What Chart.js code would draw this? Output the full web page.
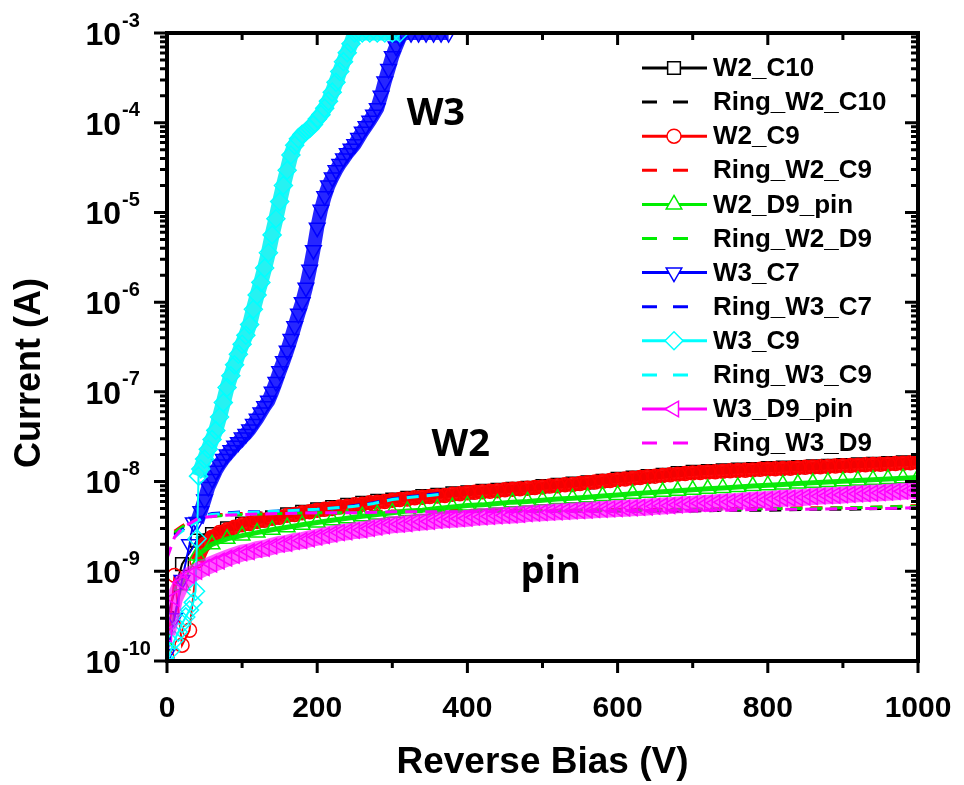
<!DOCTYPE html>
<html>
<head>
<meta charset="utf-8">
<title>Reverse bias I-V</title>
<script src="https://cdn.jsdelivr.net/npm/chart.js@4.4.0/dist/chart.umd.min.js"></script>
<style>
  html, body { margin: 0; padding: 0; background: #fff; }
  #wrap { width: 964px; height: 785px; }
</style>
</head>
<body>
<div id="wrap"><canvas id="ivChart" width="964" height="785"></canvas></div>
<script>
// bias points (V)
const vFine = [0, 10, 20, 30, 40, 50, 60, 70, 80, 90,
  100, 110, 120, 130, 140, 150, 160, 170, 180, 190,
  200, 210, 220, 230, 240, 250, 260, 270, 280, 290,
  300, 310, 320, 330, 340, 350, 360, 370, 380, 390,
  400, 410, 420, 430, 440, 450, 460, 470, 480, 490,
  500, 510, 520, 530, 540, 550, 560, 570, 580, 590,
  600, 610, 620, 630, 640, 650, 660, 670, 680, 690,
  700, 710, 720, 730, 740, 750, 760, 770, 780, 790,
  800, 810, 820, 830, 840, 850, 860, 870, 880, 890,
  900, 910, 920, 930, 940, 950, 960, 970, 980, 990, 1000];
const vCoarse = [0, 20, 40, 60, 80, 100, 120, 140, 160, 180, 200, 220, 240, 260, 280,
  300, 320, 340, 360, 380, 400, 420, 440, 460, 480, 500, 520, 540, 560, 580,
  600, 620, 640, 660, 680, 700, 720, 740, 760, 780, 800, 820, 840, 860, 880,
  900, 920, 940, 960, 980, 1000];
const vRing = [0, 10, 20, 30, 40, 50, 75, 100, 150, 200, 250, 300, 350, 400, 450,
  500, 550, 600, 650, 700, 750, 800, 850, 900, 950, 1000];
const vRingW3 = [10, 20, 30, 40, 50, 60, 80, 100, 125, 150, 175, 200, 225, 250, 275, 300, 325, 350, 370];
const vW3C9 = [0, 5, 10, 15, 20, 25, 30, 35, 38, 40, 42, 45, 50, 55, 60, 65, 70, 75, 80, 85,
  90, 95, 100, 105, 110, 115, 120, 125, 130, 135, 140, 145, 150, 155, 160, 165, 170, 175, 180, 185,
  190, 195, 200, 205, 210, 215, 220, 225, 230, 235, 240, 245, 250, 260, 270, 280, 290, 300, 310];
const vW3C7 = [0, 10, 20, 30, 35, 40, 45, 50, 55, 60, 65, 70, 75, 80, 85, 90, 95, 100, 105, 110,
  115, 120, 125, 130, 135, 140, 145, 150, 155, 160, 165, 170, 175, 180, 185, 190, 195, 200, 205, 210,
  215, 220, 225, 230, 235, 240, 245, 250, 255, 260, 265, 270, 275, 280, 285, 290, 295, 300, 305, 310,
  315, 325, 335, 345, 355, 365, 375];

// currents of the W2 / pin devices (nA)
const iW2C10 = [0.3, 1.2, 2.2, 2.6, 3.0, 3.4, 3.7, 4.0, 4.3, 4.6, 4.9, 5.2, 5.5, 5.8, 6.1,
  6.3, 6.6, 6.9, 7.1, 7.4, 7.6, 7.9, 8.1, 8.3, 8.5, 8.9, 9.2, 9.5, 9.8, 10.2,
  10.7, 11.1, 11.5, 11.9, 12.4, 12.8, 13.1, 13.3, 13.6, 13.8, 14.1, 14.3, 14.5, 14.8, 15.0,
  15.3, 15.6, 15.8, 16.1, 16.4, 16.7];
const iW2C9 = [0.11, 0.9, 0.15, 0.22, 1.3, 2.0, 2.4, 2.7, 2.9, 3.1,
  3.3, 3.4, 3.6, 3.7, 3.9, 4.0, 4.2, 4.3, 4.5, 4.6,
  4.8, 4.9, 5.0, 5.2, 5.3, 5.5, 5.6, 5.8, 5.9, 6.0,
  6.2, 6.3, 6.4, 6.6, 6.7, 6.8, 6.9, 7.0, 7.2, 7.3,
  7.5, 7.6, 7.7, 7.8, 7.9, 8.1, 8.2, 8.3, 8.4, 8.6,
  8.7, 8.9, 9.0, 9.2, 9.3, 9.5, 9.7, 9.9, 10.1, 10.3,
  10.5, 10.7, 10.9, 11.1, 11.3, 11.5, 11.7, 11.9, 12.1, 12.3,
  12.5, 12.6, 12.8, 12.9, 13.0, 13.2, 13.3, 13.4, 13.5, 13.7,
  13.8, 13.9, 14.0, 14.1, 14.3, 14.4, 14.5, 14.6, 14.7, 14.9,
  15.0, 15.1, 15.2, 15.4, 15.5, 15.6, 15.7, 15.9, 16.0, 16.2, 16.4];
const iW2D9 = [0.15, 0.7, 1.5, 2.0, 2.3, 2.5, 2.7, 2.9, 3.1, 3.3, 3.5, 3.7, 3.9, 4.1, 4.3,
  4.5, 4.7, 4.8, 5.0, 5.2, 5.4, 5.5, 5.7, 5.9, 6.0, 6.2, 6.4, 6.5, 6.7, 6.9,
  7.1, 7.3, 7.5, 7.7, 7.9, 8.1, 8.3, 8.5, 8.7, 8.9, 9.1, 9.3, 9.5, 9.7, 9.9,
  10.1, 10.3, 10.5, 10.7, 10.9, 11.1];
const iW3D9 = [0.2, 0.5, 0.75, 0.9, 1.0, 1.1, 1.2, 1.3, 1.4, 1.5,
  1.6, 1.65, 1.75, 1.8, 1.9, 2.0, 2.05, 2.15, 2.2, 2.3,
  2.4, 2.5, 2.6, 2.7, 2.75, 2.85, 2.9, 3.0, 3.1, 3.2,
  3.3, 3.35, 3.4, 3.5, 3.55, 3.6, 3.7, 3.75, 3.8, 3.85,
  3.9, 4.0, 4.05, 4.1, 4.15, 4.2, 4.25, 4.3, 4.4, 4.45,
  4.5, 4.55, 4.6, 4.65, 4.7, 4.75, 4.8, 4.85, 4.9, 4.95,
  5.0, 5.05, 5.1, 5.15, 5.2, 5.3, 5.35, 5.4, 5.5, 5.55,
  5.6, 5.7, 5.75, 5.8, 5.9, 5.95, 6.0, 6.1, 6.2, 6.25,
  6.3, 6.4, 6.5, 6.55, 6.6, 6.7, 6.8, 6.9, 6.95, 7.0,
  7.1, 7.2, 7.3, 7.35, 7.45, 7.5, 7.6, 7.7, 7.8, 7.9, 8.0];

// guard ring currents (nA)
const iRingW2C10 = [null, 2.6, 3.1, 3.5, 3.8, 4.0, 4.3, 4.4, 4.5, 4.6, 4.6, 4.6, 4.7, 4.7, 4.7,
  4.7, 4.7, 4.7, 4.7, 4.7, 4.8, 4.8, 4.9, 4.9, 5.0, 5.1];
const iRingW2C9 = [null, 2.8, 3.2, 3.6, 3.9, 4.1, 4.3, 4.4, 4.5, 4.6, 4.6, 4.7, 4.7, 4.8, 4.8,
  4.8, 4.8, 4.9, 4.9, 4.9, 5.0, 5.0, 5.1, 5.1, 5.2, 5.4];
const iRingW2D9 = [null, 2.7, 3.1, 3.5, 3.8, 4.0, 4.2, 4.3, 4.4, 4.5, 4.5, 4.6, 4.6, 4.7, 4.7,
  4.7, 4.8, 4.8, 4.8, 4.9, 4.9, 5.0, 5.0, 5.1, 5.2, 5.3];
const iRingW3C7 = [2.5, 2.9, 3.3, 3.7, 4.2, 4.4, 4.5, 4.6, 4.6, 4.7, 4.8, 4.9, 5.1, 5.4, 5.8, 6.4, 6.8, 7.2, 7.5];
const iRingW3C9 = [2.4, 2.8, 3.2, 3.6, 4.1, 4.3, 4.4, 4.5, 4.6, 4.7, 4.8, 4.9, 5.1, 5.3, 5.7, 6.3, 6.7, 7.0, 7.3];
const iRingW3D9 = [1.4, 2.4, 3.0, 3.4, 3.8, 4.0, 4.2, 4.3, 4.4, 4.5, 4.5, 4.6, 4.6, 4.6, 4.6,
  4.7, 4.7, 4.7, 4.8, 4.8, 4.8, 4.9, 4.9, 5.0, 5.0, 5.1];

// W3 breakdown curves (A)
const iW3C9 = [1.0e-10, 1.3e-10, 1.7e-10, 2.1e-10, 2.6e-10, 3.1e-10, 3.7e-10, 4.5e-10, 6.0e-10, 2.3e-9,
  1.15e-8, 1.38e-8, 1.78e-8, 2.29e-8, 2.95e-8, 3.72e-8, 5.25e-8, 7.59e-8, 1.12e-7, 1.51e-7,
  2.0e-7, 2.63e-7, 3.39e-7, 4.27e-7, 5.62e-7, 8.32e-7, 1.2e-6, 1.66e-6, 2.4e-6, 3.55e-6,
  5.62e-6, 8.51e-6, 1.32e-5, 2.0e-5, 2.95e-5, 4.37e-5, 5.62e-5, 6.61e-5, 7.41e-5, 7.94e-5,
  8.71e-5, 9.55e-5, 1.1e-4, 1.23e-4, 1.45e-4, 1.74e-4, 2.19e-4, 2.82e-4, 3.72e-4, 4.79e-4,
  6.03e-4, 7.59e-4, 1e-3, 1e-3, 1e-3, 1e-3, 1e-3, 1e-3, 1e-3];
const iW3C7 = [1.2e-10, 3.0e-10, 8.0e-10, 2.0e-9, 3.5e-9,
  3.55e-9, 4.68e-9, 6.31e-9, 8.71e-9, 1.07e-8, 1.32e-8, 1.55e-8, 1.78e-8, 2.0e-8, 2.24e-8,
  2.51e-8, 2.75e-8, 3.09e-8, 3.39e-8, 3.8e-8, 4.37e-8, 5.01e-8, 5.89e-8, 6.92e-8, 7.94e-8,
  1.0e-7, 1.29e-7, 1.7e-7, 2.19e-7, 2.88e-7, 3.89e-7, 5.37e-7, 7.41e-7, 1.0e-6, 1.45e-6,
  2.29e-6, 3.8e-6, 6.76e-6, 1.07e-5, 1.51e-5, 2.0e-5, 2.45e-5, 2.95e-5, 3.47e-5, 3.98e-5,
  4.57e-5, 5.13e-5, 5.75e-5, 6.76e-5, 7.94e-5, 9.12e-5, 1.05e-4, 1.23e-4, 1.45e-4, 2.0e-4,
  2.88e-4, 3.98e-4, 5.5e-4, 7.08e-4, 8.91e-4, 1e-3, 1e-3, 1e-3, 1e-3, 1e-3, 1e-3, 1e-3];

// axis ticks
const xMajor = [0, 200, 400, 600, 800, 1000];
const xMinor = [100, 300, 500, 700, 900];
const yExponents = [-10, -9, -8, -7, -6, -5, -4, -3];

// text labels on the plot: [bias, current, text]
const notes = [[358, 9.4e-5, 'W3'], [391, 1.95e-8, 'W2'], [511, 7.46e-10, 'pin']];

const NANO = 1e-9;
const FONT = '"Liberation Sans", Arial, sans-serif';

function pts(xs, ys, k) {
    return xs.map((v, i) => ({ x: v, y: ys[i] == null ? null : ys[i] * k }));
}

// hollow markers sitting on a wide trace, so the dense Origin band is kept;
// the scattered low-bias start is joined with a thin line only
function marked(label, color, band, data, style, rot, r, lw, thinTo) {
    return {
        label: label, data: data, borderColor: band, legendColor: color, backgroundColor: 'rgba(0,0,0,0)',
        borderWidth: lw, pointStyle: style, pointRotation: rot, pointRadius: r,
        pointBorderWidth: 1.5, pointBorderColor: color, pointBackgroundColor: 'rgba(0,0,0,0)',
        segment: {
            borderWidth: c => (c.p1.parsed.x <= thinTo ? 2 : lw),
            borderColor: c => (c.p1.parsed.x <= thinTo ? color : band)
        }
    };
}

function dashed(label, color, data) {
    return { label: label, data: data, borderColor: color, legendColor: color, borderWidth: 3, borderDash: [12, 8], pointRadius: 0 };
}

let datasets = [
    marked('W2_C10', '#000000', 'rgba(0,0,0,0.9)', pts(vCoarse, iW2C10, NANO), 'rect', 0, 9, 8, 40),
    dashed('Ring_W2_C10', '#000000', pts(vRing, iRingW2C10, NANO)),
    marked('W2_C9', '#ff0000', 'rgba(255,0,0,0.95)', pts(vFine, iW2C9, NANO), 'circle', 0, 7, 13, 40),
    dashed('Ring_W2_C9', '#ff0000', pts(vRing, iRingW2C9, NANO)),
    marked('W2_D9_pin', '#00ee00', 'rgba(0,230,0,0.95)', pts(vCoarse, iW2D9, NANO), 'triangle', 0, 9, 5, 40),
    dashed('Ring_W2_D9', '#00ee00', pts(vRing, iRingW2D9, NANO)),
    marked('W3_C7', '#0000ff', 'rgba(0,0,255,0.85)', pts(vW3C7, iW3C7, 1), 'triangle', 180, 9, 14, 40),
    dashed('Ring_W3_C7', '#0000ff', pts(vRingW3, iRingW3C7, NANO)),
    marked('W3_C9', '#00ffff', 'rgba(0,240,240,0.85)', pts(vW3C9, iW3C9, 1), 'rectRot', 0, 9, 15, 42),
    dashed('Ring_W3_C9', '#00ffff', pts(vRingW3, iRingW3C9, NANO)),
    marked('W3_D9_pin', '#ff00ff', 'rgba(255,0,255,0.65)', pts(vFine, iW3D9, NANO), 'triangle', -90, 9, 17, -1),
    dashed('Ring_W3_D9', '#ff00ff', pts(vRing, iRingW3D9, NANO))
];
// later curves on top, like the original plot
datasets.forEach((ds, i) => { ds.order = datasets.length - i; });

// frame, inward/outward ticks, y labels with superscripts, y title, notes
const decorations = {
    id: 'decorations',
    afterDatasetsDraw(chart) {
        const ctx = chart.ctx;
        const a = chart.chartArea;
        const xs = chart.scales.x, ys = chart.scales.y;
        ctx.save();
        ctx.strokeStyle = '#000';
        ctx.lineWidth = 3;
        ctx.beginPath();
        xMajor.concat(xMinor).forEach(v => {
            const px = xs.getPixelForValue(v);
            const len = xMajor.includes(v) ? 12 : 7;
            ctx.moveTo(px, a.bottom); ctx.lineTo(px, a.bottom + len);
            ctx.moveTo(px, a.top); ctx.lineTo(px, a.top + len);
        });
        yExponents.forEach(e => {
            for (let k = 1; k <= 9; k++) {
                const v = k * Math.pow(10, e);
                if (v > 1e-3 * 1.0001) break;
                const py = ys.getPixelForValue(v);
                const len = k === 1 ? 13 : 7;
                ctx.moveTo(a.left, py); ctx.lineTo(a.left - len, py);
                ctx.moveTo(a.right, py); ctx.lineTo(a.right - len, py);
            }
        });
        ctx.stroke();
        ctx.lineWidth = 4;
        ctx.strokeRect(a.left, a.top, a.right - a.left, a.bottom - a.top);

        ctx.fillStyle = '#000';
        yExponents.forEach(e => {
            const py = ys.getPixelForValue(Math.pow(10, e));
            ctx.font = 'bold 32px ' + FONT;
            ctx.textAlign = 'right';
            ctx.textBaseline = 'middle';
            ctx.fillText('10', 121, py + 3);
            ctx.font = 'bold 20px ' + FONT;
            ctx.textAlign = 'left';
            ctx.fillText(String(e), 122, py - 12);
        });

        ctx.save();
        ctx.translate(30, 373);
        ctx.rotate(-Math.PI / 2);
        ctx.font = 'bold 36px ' + FONT;
        ctx.textAlign = 'center';
        ctx.textBaseline = 'middle';
        ctx.fillText('Current (A)', 0, 0);
        ctx.restore();

        ctx.font = 'bold 38px "Open Sans", Lato, sans-serif';
        ctx.textAlign = 'center';
        ctx.textBaseline = 'alphabetic';
        notes.forEach(n => {
            ctx.fillText(n[2], xs.getPixelForValue(n[0]), ys.getPixelForValue(n[1]));
        });
        ctx.restore();
    }
};

// legend drawn like the Origin one: line + marker, then the name
const legendBox = {
    id: 'legendBox',
    afterDraw(chart) {
        const ctx = chart.ctx;
        chart.data.datasets.forEach((ds, i) => {
            const y = 68 + i * 34.1;
            ctx.save();
            ctx.strokeStyle = ds.legendColor;
            ctx.lineWidth = 3;
            ctx.beginPath();
            if (ds.borderDash) {
                ctx.setLineDash([15, 16]);
                ctx.moveTo(642, y); ctx.lineTo(690, y);
            } else {
                ctx.moveTo(642, y); ctx.lineTo(707, y);
            }
            ctx.stroke();
            ctx.setLineDash([]);
            if (ds.pointRadius) {
                ctx.fillStyle = '#fff';
                ctx.lineWidth = 1.5;
                Chart.helpers.drawPoint(ctx, {
                    pointStyle: ds.pointStyle, rotation: ds.pointRotation || 0,
                    radius: ds.pointRadius, borderWidth: 1.5
                }, 674, y);
            }
            ctx.fillStyle = '#000';
            ctx.font = 'bold 26px ' + FONT;
            ctx.textAlign = 'left';
            ctx.textBaseline = 'middle';
            ctx.fillText(ds.label, 713, y + 1);
            ctx.restore();
        });
    }
};

let ctx = document.getElementById('ivChart').getContext('2d');
let ivChart = new Chart(ctx, {
    type: 'line',
    data: { datasets: datasets },
    options: {
        responsive: false,
        animation: false,
        layout: { padding: { top: 33, right: 46, left: 0, bottom: 0 } },
        plugins: { legend: { display: false }, tooltip: { enabled: false } },
        scales: {
            x: {
                type: 'linear', min: 0, max: 1000,
                // tick marks are drawn by the plugin; tickLength only spaces the labels
                grid: { display: false, drawTicks: true, tickLength: 30 },
                border: { display: false },
                ticks: {
                    stepSize: 200, maxRotation: 0, padding: 0, color: '#000',
                    font: { family: FONT, size: 30, weight: 'bold' },
                    callback: v => String(v)
                },
                title: {
                    display: true, text: 'Reverse Bias (V)', color: '#000',
                    font: { family: FONT, size: 37, weight: 'bold' },
                    padding: { top: 0, bottom: 0 }
                },
                afterFit(s) { s.height = 124; }
            },
            y: {
                type: 'logarithmic', min: 1e-10, max: 1e-3,
                grid: { display: false, drawTicks: false },
                border: { display: false },
                ticks: { display: false },
                afterFit(s) { s.width = 167; }
            }
        }
    },
    plugins: [decorations, legendBox]
});
</script>
</body>
</html>
